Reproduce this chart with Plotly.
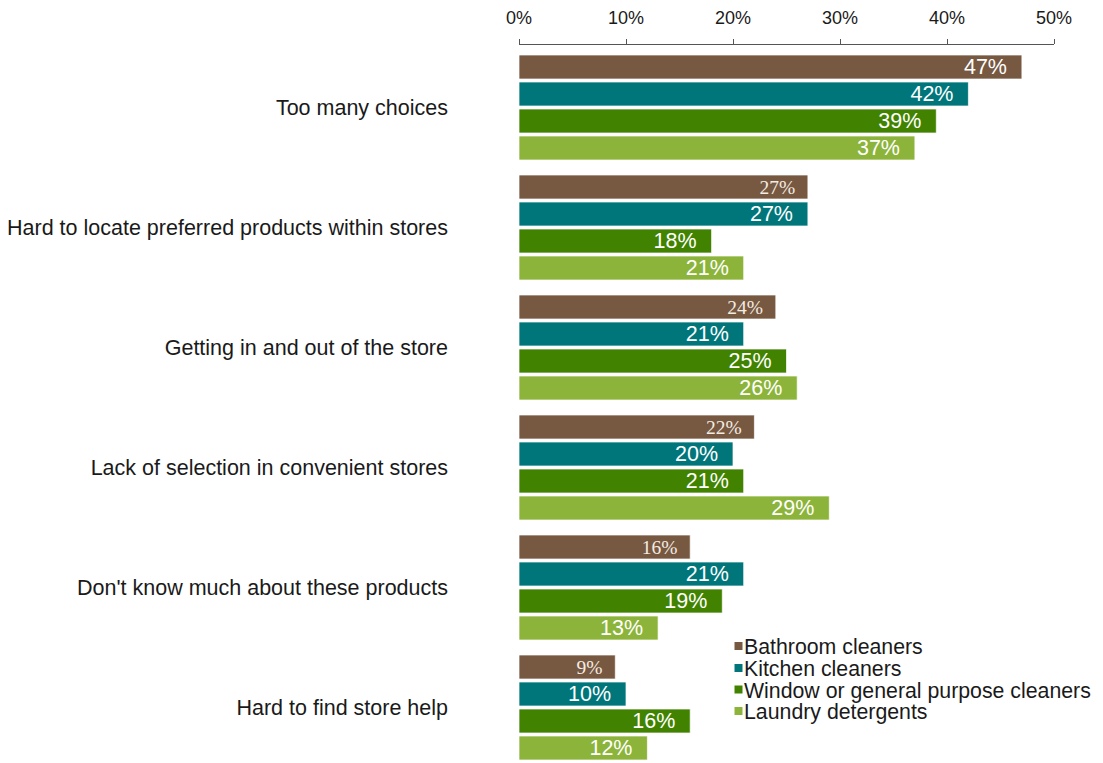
import plotly.graph_objects as go

# Survey: barriers to buying cleaning products in store, by product type
categories = [
    "Too many choices",
    "Hard to locate preferred products within stores",
    "Getting in and out of the store",
    "Lack of selection in convenient stores",
    "Don't know much about these products",
    "Hard to find store help",
]
series_names = [
    "Bathroom cleaners",
    "Kitchen cleaners",
    "Window or general purpose cleaners",
    "Laundry detergents",
]
bathroom = [47, 27, 24, 22, 16, 9]
kitchen = [42, 27, 21, 20, 21, 10]
window_general = [39, 18, 25, 21, 19, 16]
laundry = [37, 21, 26, 29, 13, 12]
x_ticks = [0, 10, 20, 30, 40, 50]

series_values = [bathroom, kitchen, window_general, laundry]
colors = ["#775840", "#00767b", "#418300", "#8cb43a"]

W, H = 1103, 763
M_L, M_R, M_T, M_B = 519, 49, 45, 0
plot_w = W - M_L - M_R
plot_h = H - M_T - M_B

SANS = "Arial, Liberation Sans"
SERIF = "Times New Roman, Liberation Serif"
PAD = "\u00a0\u00a0"

fig = go.Figure()
for i, (name, vals, col) in enumerate(zip(series_names, series_values, colors)):
    if i == 0:
        fam = [SANS] + [SERIF] * (len(vals) - 1)
        fcol = ["#ffffff"] + ["#f3ece4"] * (len(vals) - 1)
        fsize = [21.5] + [19.5] * (len(vals) - 1)
    else:
        fam = SANS
        fcol = "#ffffff"
        fsize = 21.5
    fig.add_trace(go.Bar(
        name=name,
        y=categories,
        x=vals,
        orientation="h",
        marker=dict(color=col, line=dict(color="rgba(255,255,255,0.7)", width=1)),
        text=[f"{v}%{PAD}" for v in vals],
        textposition="inside",
        insidetextanchor="end",
        constraintext="none",
        textfont=dict(family=fam, color=fcol, size=fsize),
        showlegend=False,
        hoverinfo="skip",
    ))

# Category index range so that the groups sit 120 px apart below the top axis
cat_step = 120.0
first_center = 107.5
top_val = -(first_center - M_T) / cat_step
bottom_val = (len(categories) - 1) + (H - M_B - (first_center + cat_step * (len(categories) - 1))) / cat_step

fig.update_layout(
    width=W,
    height=H,
    margin=dict(l=M_L, r=M_R, t=M_T, b=M_B, pad=0),
    paper_bgcolor="white",
    plot_bgcolor="white",
    barmode="group",
    bargap=0.1,
    bargroupgap=0.111,
    font=dict(family=SANS, color="#1a1a1a"),
    xaxis=dict(
        side="top",
        range=[0, 50],
        tickvals=x_ticks,
        ticktext=[f"{v}%" for v in x_ticks],
        ticks="outside",
        ticklen=5,
        tickcolor="#555555",
        showline=True,
        linecolor="#555555",
        linewidth=1,
        showgrid=False,
        zeroline=False,
        tickfont=dict(size=18, color="#1a1a1a"),
        ticklabelstandoff=8,
    ),
    yaxis=dict(
        type="category",
        categoryorder="array",
        categoryarray=categories,
        range=[bottom_val, top_val],
        showline=False,
        showgrid=False,
        zeroline=False,
        ticks="",
        tickfont=dict(size=21.5, color="#1a1a1a"),
        ticklabelstandoff=70,
    ),
)

# Legend: coloured keys with series names, stacked at the lower right
leg_text_x = 742
leg_rows = [647, 669, 690.5, 712]
for name, col, ypx in zip(series_names, colors, leg_rows):
    yp = (H - M_B - ypx) / plot_h
    fig.add_annotation(
        xref="paper", yref="paper",
        x=(leg_text_x - M_L) / plot_w, y=yp,
        xanchor="left", yanchor="middle",
        text=name, showarrow=False,
        font=dict(size=21.3, color="#1a1a1a"),
    )
    fig.add_shape(
        type="rect",
        xref="paper", yref="paper",
        xsizemode="pixel", ysizemode="pixel",
        xanchor=(738.5 - M_L) / plot_w,
        yanchor=yp + 1.0 / plot_h,
        x0=-4, x1=4, y0=-4, y1=4,
        fillcolor=col, line=dict(width=0),
    )

fig.write_html("out.html")
